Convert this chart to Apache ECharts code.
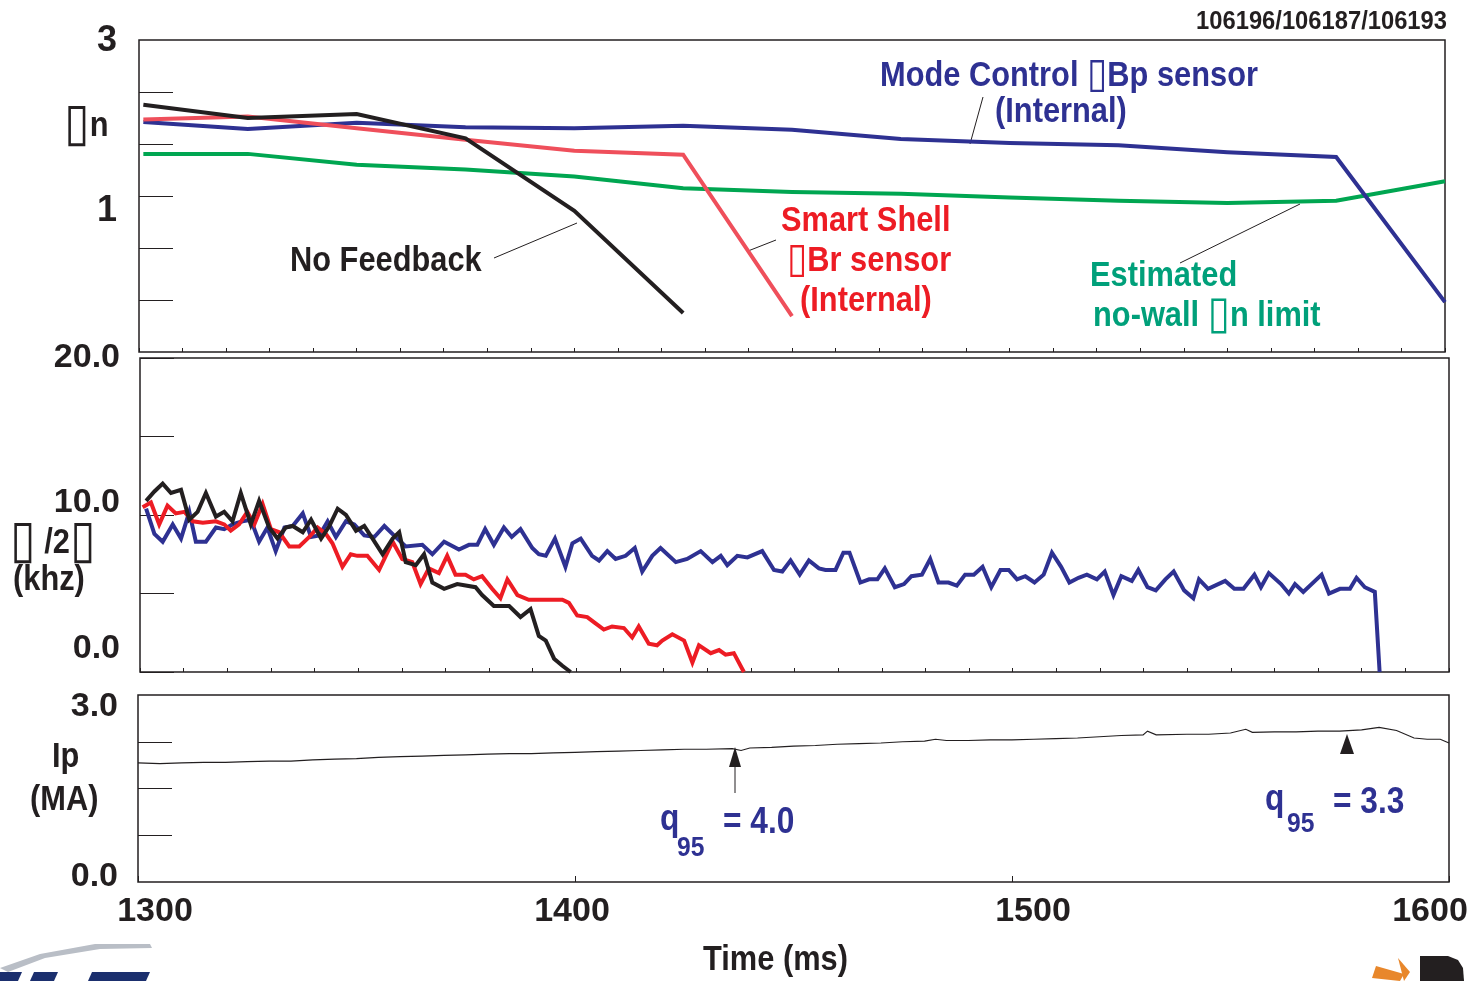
<!DOCTYPE html>
<html>
<head>
<meta charset="utf-8">
<title>Resistive wall mode feedback: βn, rotation and plasma current</title>
<script src="https://cdn.jsdelivr.net/npm/echarts@6/dist/echarts.min.js"></script>
<style>
  html, body { margin: 0; padding: 0; background: #ffffff; }
  #chart { width: 1473px; height: 981px; }
</style>
</head>
<body>
<div id="chart"></div>
<script>
// ---- βn traces (top panel), sampled every 25 ms ----
const betaTime = [1301, 1325, 1350, 1375, 1400, 1425, 1450, 1475, 1500, 1525, 1550, 1575, 1600];
const betaModeControl = [1.95, 1.86, 1.94, 1.88, 1.87, 1.90, 1.85, 1.73, 1.68, 1.65, 1.56, 1.50, -0.36];
const betaSmartShell = [1.98, 2.02, 1.87, 1.72, 1.58, 1.53, -0.54];
const betaNoFeedback = [2.17, 2.00, 2.05, 1.74, 0.81, -0.50];
const betaNoWallLimit = [1.54, 1.54, 1.40, 1.34, 1.25, 1.10, 1.05, 1.03, 0.98, 0.94, 0.91, 0.94, 1.19];

// ---- mode rotation frequency ω/2π in kHz (middle panel) ----
const freqModeTime = [1301.4, 1303.3, 1305.2, 1307.5, 1309.4, 1311.3, 1312.8, 1315.1, 1317.4, 1319.3, 1321.2, 1323.5, 1325.4, 1327.3, 1329.2, 1331.1, 1333.1, 1335.0, 1337.3, 1339.2, 1341.1, 1343.0, 1344.9, 1347.2, 1349.1, 1351.4, 1353.7, 1356.0, 1358.2, 1360.9, 1364.7, 1367.0, 1369.7, 1373.1, 1375.4, 1377.3, 1379.1, 1381.1, 1383.4, 1385.2, 1387.2, 1389.9, 1391.4, 1393.0, 1395.1, 1397.5, 1399.1, 1401.0, 1403.6, 1405.2, 1407.1, 1409.0, 1411.3, 1413.4, 1415.1, 1417.4, 1419.3, 1422.8, 1425.4, 1428.5, 1431.2, 1433.1, 1434.6, 1436.9, 1439.2, 1442.6, 1445.3, 1447.2, 1449.1, 1451.2, 1453.3, 1455.6, 1457.1, 1459.4, 1461.2, 1462.6, 1465.1, 1467.1, 1469.0, 1470.7, 1473.0, 1475.1, 1476.8, 1479.2, 1481.1, 1483.0, 1485.3, 1487.2, 1489.1, 1491.1, 1493.1, 1495.1, 1497.2, 1499.1, 1501.0, 1502.9, 1505.0, 1507.1, 1509.0, 1511.1, 1513.0, 1515.1, 1517.0, 1519.3, 1521.1, 1523.1, 1524.9, 1527.3, 1528.8, 1530.9, 1532.8, 1535.0, 1536.9, 1539.3, 1541.4, 1542.7, 1544.8, 1548.7, 1550.8, 1552.9, 1555.4, 1556.9, 1558.7, 1561.5, 1563.3, 1564.7, 1566.6, 1570.8, 1572.5, 1575.0, 1577.3, 1578.8, 1580.7, 1583.0, 1584.1];
const freqModeControl = [10.4, 8.8, 8.3, 9.4, 8.5, 10.2, 8.3, 8.3, 9.2, 9.1, 9.4, 9.6, 9.7, 8.3, 9.2, 7.7, 9.2, 9.3, 10.1, 8.6, 8.7, 9.6, 8.6, 9.6, 9.4, 8.7, 8.6, 9.3, 8.7, 8.0, 8.1, 7.5, 8.3, 7.8, 8.1, 8.1, 9.1, 8.1, 9.2, 8.6, 9.1, 7.9, 7.5, 7.4, 8.5, 6.7, 8.2, 8.5, 7.4, 7.1, 7.7, 7.2, 7.4, 7.9, 6.4, 7.4, 7.9, 7.0, 7.2, 7.7, 7.0, 7.4, 6.8, 7.4, 7.3, 7.7, 6.5, 6.4, 7.1, 6.2, 7.1, 6.6, 6.5, 6.5, 7.6, 7.6, 5.7, 5.9, 5.9, 6.6, 5.4, 5.6, 6.1, 6.2, 7.2, 5.7, 5.7, 5.5, 6.2, 6.2, 6.7, 5.4, 6.5, 6.5, 5.9, 6.1, 5.7, 6.2, 7.6, 6.7, 5.7, 6.0, 6.2, 5.9, 6.4, 4.9, 6.1, 5.8, 6.5, 5.4, 5.2, 5.9, 6.4, 5.2, 4.7, 5.9, 5.3, 5.8, 5.3, 5.3, 6.2, 5.4, 6.3, 5.6, 5.0, 5.6, 5.1, 6.2, 5.0, 5.3, 5.3, 6.0, 5.4, 5.1, 0.0];

const freqShellTime = [1300.6, 1302.5, 1304.4, 1306.3, 1308.2, 1310.2, 1312.1, 1314.4, 1317.4, 1319.3, 1320.8, 1322.7, 1324.6, 1326.2, 1328.1, 1330.0, 1331.9, 1334.2, 1336.5, 1338.8, 1340.7, 1342.6, 1344.1, 1346.4, 1348.3, 1349.8, 1352.1, 1354.8, 1357.9, 1360.1, 1362.4, 1364.3, 1366.2, 1368.5, 1370.4, 1372.3, 1374.6, 1376.5, 1378.4, 1380.7, 1382.6, 1384.2, 1386.5, 1389.1, 1392.2, 1396.8, 1398.3, 1400.2, 1402.5, 1404.4, 1406.3, 1408.2, 1410.9, 1412.8, 1414.3, 1416.6, 1418.5, 1419.7, 1422.0, 1424.7, 1426.6, 1428.1, 1430.8, 1432.7, 1434.2, 1436.1, 1438.4];
const freqSmartShell = [10.5, 10.8, 9.4, 10.6, 10.1, 10.2, 9.6, 9.5, 9.6, 9.4, 9.0, 9.4, 10.2, 9.4, 10.7, 9.1, 8.9, 8.0, 8.0, 8.6, 9.2, 8.8, 8.2, 6.7, 7.5, 7.4, 7.4, 6.5, 8.3, 7.2, 7.0, 5.6, 6.6, 6.3, 7.4, 6.2, 6.2, 5.9, 6.1, 5.3, 4.7, 5.9, 4.9, 4.6, 4.6, 4.6, 4.4, 3.6, 3.5, 3.1, 2.7, 2.9, 2.8, 2.2, 2.9, 1.8, 1.7, 2.0, 2.4, 2.0, 0.6, 1.7, 1.2, 1.4, 1.1, 1.2, 0.0];

const freqNoFbTime = [1301.4, 1303.3, 1305.2, 1307.1, 1309.4, 1311.3, 1313.2, 1315.1, 1317.4, 1319.3, 1321.2, 1323.1, 1325.4, 1327.3, 1329.6, 1331.5, 1333.4, 1335.0, 1337.3, 1339.2, 1341.5, 1343.4, 1345.3, 1347.2, 1349.5, 1351.4, 1353.3, 1355.6, 1357.9, 1359.4, 1360.9, 1363.2, 1365.1, 1367.0, 1369.7, 1372.7, 1376.9, 1378.4, 1381.1, 1384.6, 1387.2, 1389.5, 1391.4, 1393.0, 1394.9, 1396.8, 1398.7];
const freqNoFeedback = [10.9, 11.5, 12.0, 11.4, 11.6, 9.7, 10.2, 11.4, 9.9, 10.2, 9.6, 11.4, 9.4, 10.9, 9.2, 8.5, 9.2, 9.3, 8.9, 9.7, 8.5, 9.3, 10.4, 10.0, 9.0, 9.3, 8.5, 7.5, 8.5, 8.9, 7.0, 6.8, 7.5, 5.7, 5.3, 5.6, 5.4, 4.9, 4.2, 4.2, 3.5, 4.0, 2.3, 2.0, 0.85, 0.4, 0.0];

// ---- plasma current Ip in MA (bottom panel) ----
const ipTime = [1300, 1305, 1310, 1315, 1320, 1325, 1330, 1335, 1340, 1345, 1350, 1355, 1360, 1365, 1370, 1375, 1380, 1385, 1390, 1395, 1400, 1405, 1410, 1415, 1420, 1425, 1430, 1436, 1438, 1440, 1445, 1450, 1455, 1460, 1465, 1470, 1475, 1480, 1482.5, 1485, 1490, 1495, 1500, 1505, 1510, 1515, 1520, 1525, 1530, 1531, 1533, 1540, 1545, 1550, 1553.5, 1555, 1560, 1565, 1570, 1575, 1580, 1584, 1588, 1592, 1595, 1598, 1600];
const ipCurrent = [1.91, 1.90, 1.91, 1.92, 1.92, 1.93, 1.94, 1.94, 1.96, 1.97, 1.98, 2.00, 2.01, 2.02, 2.03, 2.04, 2.05, 2.06, 2.06, 2.07, 2.08, 2.09, 2.10, 2.11, 2.12, 2.13, 2.13, 2.14, 2.11, 2.15, 2.16, 2.18, 2.19, 2.21, 2.22, 2.23, 2.25, 2.26, 2.29, 2.27, 2.27, 2.28, 2.28, 2.29, 2.30, 2.31, 2.33, 2.35, 2.36, 2.42, 2.36, 2.37, 2.37, 2.39, 2.45, 2.40, 2.41, 2.41, 2.42, 2.42, 2.44, 2.48, 2.43, 2.31, 2.29, 2.29, 2.23];

// ---- axis tick/label values ----
const timeLabels = [1300, 1400, 1500, 1600];
const betaTicks = [-1 / 3, 1 / 3, 1, 5 / 3, 7 / 3];
const betaLabels = [1, 3];
const freqLabels = [0, 10, 20];
const ipTicks = [0.75, 1.5, 2.25];
const ipLabels = [0, 3];

const INK = '#231F20';
const BLUE = '#2E3192';
const RED = '#ED1C24';
const PINK = '#EF4F5B';
const GREEN = '#00A651';
const TEAL = '#00A07A';
const FAMILY = '"Liberation Sans", Arial, Helvetica, sans-serif';
const BOXFAMILY = '"DejaVu Sans", sans-serif';
const font = (size) => 'bold ' + size + 'px ' + FAMILY;

const pairs = (xs, ys) => ys.map((y, i) => [xs[i], y]);

const chart = echarts.init(document.getElementById('chart'), null, { renderer: 'canvas' });

// axis label style; shift moves the label down (+) or up (-) from its tick
const labelRich = (size, shift) => ({
  fontFamily: FAMILY, fontWeight: 'bold', fontSize: size, color: INK,
  padding: shift >= 0 ? [shift * 2, 0, 0, 0] : [0, 0, -shift * 2, 0]
});

function line(name, data, color, width, xi, z) {
  return {
    name, type: 'line', data, xAxisIndex: xi, yAxisIndex: xi,
    showSymbol: false, symbol: 'none', clip: false, z: z || 2,
    lineStyle: { color, width, join: 'miter' }, animation: false
  };
}

// Text annotation; '▯' marks are set in a larger size (boxK) so they read as tall boxes.
function text(x, y, str, size, color, opts) {
  const o = opts || {};
  const parts = str.split('▯');
  let rich = '';
  parts.forEach((p, i) => {
    if (i > 0) rich += '{b|▯}';
    if (p.length) rich += '{a|' + p + '}';
  });
  return {
    type: 'text', x, y, silent: true,
    scaleX: o.sx || 0.88, scaleY: 1, originX: 0, originY: 0,
    style: {
      text: rich, fill: color, font: font(size),
      align: o.align || 'left', verticalAlign: 'middle',
      rich: {
        a: { fill: color, font: font(size), lineHeight: size + 4, verticalAlign: 'middle' },
        b: { fill: color, font: 'normal ' + Math.round(size * (o.boxK || 1.2)) + 'px ' + BOXFAMILY, lineHeight: size + 4, verticalAlign: 'middle' }
      }
    }
  };
}
function seg(x1, y1, x2, y2, w) {
  return { type: 'line', silent: true, shape: { x1, y1, x2, y2 }, style: { stroke: INK, lineWidth: w || 1 } };
}
function poly(points, fill) {
  return { type: 'polygon', silent: true, shape: { points }, style: { fill } };
}

const frame = { show: true, borderColor: INK, borderWidth: 1.5, backgroundColor: 'transparent' };
const bottomTicks = (gi, interval, len) => ({
  gridIndex: gi, type: 'value', min: 1300, max: 1600, interval,
  axisLine: { show: false, onZero: false }, splitLine: { show: false },
  axisTick: { inside: true, length: len, lineStyle: { color: INK, width: 1 } },
  axisLabel: { show: false }
});

const option = {
  animation: false,
  backgroundColor: '#ffffff',
  grid: [
    Object.assign({ left: 139, top: 40, width: 1306, height: 312 }, frame),
    Object.assign({ left: 140, top: 358, width: 1309, height: 314 }, frame),
    Object.assign({ left: 138, top: 695, width: 1311, height: 187 }, frame)
  ],
  xAxis: [
    bottomTicks(0, 10, 4),
    bottomTicks(1, 10, 4),
    Object.assign(bottomTicks(2, 100, 6), {
      axisLabel: {
        customValues: timeLabels, margin: 13,
        formatter: (v) => '{t' + v + '|' + v + '}',
        rich: {
          t1300: Object.assign(labelRich(34, 0), { padding: [0, 0, 0, 34] }),
          t1400: Object.assign(labelRich(34, 0), { padding: [0, 6, 0, 0] }),
          t1500: Object.assign(labelRich(34, 0), { padding: [0, 0, 0, 42] }),
          t1600: Object.assign(labelRich(34, 0), { padding: [0, 38, 0, 0] })
        }
      }
    })
  ],
  yAxis: [
    {
      gridIndex: 0, type: 'value', min: -1, max: 3,
      axisLine: { show: false, onZero: false }, splitLine: { show: false },
      axisTick: { inside: true, length: 34, customValues: betaTicks, lineStyle: { color: INK, width: 1 } },
      axisLabel: {
        customValues: betaLabels, margin: 22,
        formatter: (v) => (v === 1 ? '{lo|1}' : '{hi|3}'),
        rich: { lo: labelRich(36, 15), hi: labelRich(36, 1) }
      }
    },
    {
      gridIndex: 1, type: 'value', min: 0, max: 20, interval: 5,
      axisLine: { show: false, onZero: false }, splitLine: { show: false },
      axisTick: { inside: true, length: 34, lineStyle: { color: INK, width: 1 } },
      axisLabel: {
        customValues: freqLabels, margin: 20,
        formatter: (v) => (v === 0 ? '{z|0.0}' : v === 10 ? '{m|10.0}' : '{h|20.0}'),
        rich: { z: labelRich(34, -23), m: labelRich(34, -12), h: labelRich(34, 0) }
      }
    },
    {
      gridIndex: 2, type: 'value', min: 0, max: 3,
      axisLine: { show: false, onZero: false }, splitLine: { show: false },
      axisTick: { inside: true, length: 34, customValues: ipTicks, lineStyle: { color: INK, width: 1 } },
      axisLabel: {
        customValues: ipLabels, margin: 20,
        formatter: (v) => (v === 0 ? '{z|0.0}' : '{h|3.0}'),
        rich: { z: labelRich(34, -5), h: labelRich(34, 12) }
      }
    }
  ],
  series: [
    line('No-wall limit', pairs(betaTime, betaNoWallLimit), GREEN, 4, 0, 2),
    line('Mode Control', pairs(betaTime, betaModeControl), BLUE, 4, 0, 3),
    line('Smart Shell', pairs(betaTime, betaSmartShell), PINK, 4, 0, 4),
    line('No Feedback', pairs(betaTime, betaNoFeedback), INK, 4, 0, 5),

    line('Mode Control ω/2π', pairs(freqModeTime, freqModeControl), BLUE, 4, 1, 3),
    line('Smart Shell ω/2π', pairs(freqShellTime, freqSmartShell), RED, 4, 1, 4),
    line('No Feedback ω/2π', pairs(freqNoFbTime, freqNoFeedback), INK, 4, 1, 5),

    line('Ip', pairs(ipTime, ipCurrent), INK, 1.2, 2, 3)
  ],
  graphic: [
    text(1447, 22, '106196/106187/106193', 25, INK, { align: 'right', sx: 0.95 }),

    // curve labels, top panel
    text(880, 76, 'Mode Control ▯Bp sensor', 35, BLUE),
    text(995, 112, '(Internal)', 35, BLUE),
    seg(983, 97, 970, 144),
    text(290, 261, 'No Feedback', 35, INK),
    seg(494, 258, 577, 223),
    text(781, 221, 'Smart Shell', 35, RED),
    text(787, 261, '▯Br sensor', 35, RED),
    text(800, 301, '(Internal)', 35, RED),
    seg(748, 251, 776, 240),
    text(1090, 276, 'Estimated', 35, TEAL),
    text(1093, 316, 'no-wall ▯n limit', 35, TEAL, { boxK: 1.3 }),
    seg(1180, 263, 1300, 204),

    // axis titles
    text(64, 126, '▯n', 35, INK, { boxK: 1.5 }),
    text(10, 543, '▯ /2▯', 35, INK, { boxK: 1.5 }),
    text(13, 580, '(khz)', 35, INK),
    text(52, 757, 'Ip', 35, INK),
    text(30, 800, '(MA)', 35, INK),
    text(703, 960, 'Time (ms)', 35, INK),

    // safety factor markers on the current trace
    text(660, 820, 'q', 36, BLUE),
    text(677, 848, '95', 28, BLUE),
    text(723, 823, '= 4.0', 36, BLUE),
    seg(735, 793, 735, 764),
    poly([[729, 767], [741, 767], [735, 747]], INK),
    text(1265, 800, 'q', 36, BLUE),
    text(1287, 824, '95', 28, BLUE),
    text(1333, 803, '= 3.3', 36, BLUE),
    poly([[1340, 754], [1354, 754], [1347, 734]], INK),

    // corner logos
    poly([[0, 968], [40, 954], [95, 944], [150, 944], [152, 948], [100, 949], [45, 958], [8, 972]], '#B9BEC6'),
    poly([[0, 972], [22, 972], [18, 981], [0, 981]], '#1B2F6E'),
    poly([[34, 972], [58, 972], [54, 981], [30, 981]], '#1B2F6E'),
    poly([[92, 972], [150, 972], [146, 981], [88, 981]], '#1B2F6E'),
    poly([[1376, 966], [1404, 974], [1400, 981], [1372, 978]], '#E8872B'),
    poly([[1398, 958], [1410, 972], [1404, 981]], '#E8872B'),
    poly([[1420, 956], [1448, 956], [1458, 960], [1463, 968], [1464, 981], [1420, 981]], INK)
  ]
};

chart.setOption(option);
</script>
</body>
</html>
